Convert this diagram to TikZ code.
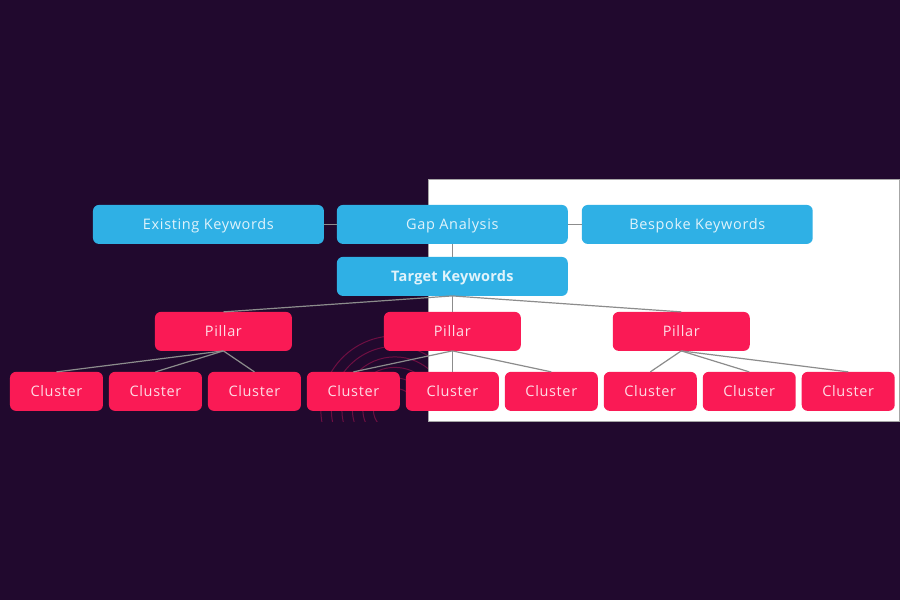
\documentclass[tikz,border=0pt]{standalone}
\usepackage{fontspec}
\setmainfont{Open Sans}
\usetikzlibrary{positioning}
\definecolor{darkbg}{HTML}{21092E}
\definecolor{kwblue}{HTML}{2FB0E5}
\definecolor{pillarred}{HTML}{FA1A55}
\definecolor{arcred}{HTML}{6E0F42}
\newcommand{\boxfont}{\fontsize{14.5}{16}\selectfont\addfontfeature{LetterSpace=4.5}}
\begin{document}
\begin{tikzpicture}[x=1pt,y=-1pt]
\tikzstyle{keyword} = [rectangle, fill=kwblue, text=white!85!kwblue, rounded corners=6pt, minimum width=231pt, minimum height=39pt, font=\boxfont, inner sep=0pt, outer sep=0pt, text height=12pt, text depth=1pt];
\tikzstyle{pillar} = [keyword, fill=pillarred, text=white!85!pillarred, minimum width=137pt];
\tikzstyle{cluster} = [pillar, minimum width=93pt];
\tikzstyle{line} = [draw=gray!90, line width=1.2pt];
% background
\fill[darkbg] (0,0) rectangle (900,600);
\fill[white] (428.5,179) rectangle (900,421);
\draw[gray!70, line width=0.6pt] (428.5,179) -- (900,179) -- (900,421) -- (428.5,421) -- cycle;
% arcs behind the boxes
\begin{scope}
\clip (300,325) -- (428,325) -- (428,411) -- (395,411) -- (395,422) -- (300,422) -- cycle;
\foreach \r in {21.5,32,42.5,53,63.5,74}
  \draw[arcred, line width=1pt] (395,410) circle (\r);
\end{scope}
% row 1
\node [keyword] (gap) at (452.5,224.5) {Gap Analysis};
\node [keyword, left=13pt of gap] (existing) {Existing Keywords};
\node [keyword, right=14pt of gap] (bespoke) {Bespoke Keywords};
% row 2
\node [keyword, below=13pt of gap, font=\fontsize{14.5}{16}\selectfont\bfseries\addfontfeature{LetterSpace=1.5}] (target) {Target Keywords};
% row 3
\node [pillar] (pillar2) at (452.5,331.5) {Pillar};
\node [pillar, left=92pt of pillar2] (pillar1) {Pillar};
\node [pillar, right=92pt of pillar2] (pillar3) {Pillar};
% row 4
\node [cluster] (cluster5) at (452.5,391.5) {Cluster};
\node [cluster, left=6pt of cluster5] (cluster4) {Cluster};
\node [cluster, left=6pt of cluster4] (cluster3) {Cluster};
\node [cluster, left=6pt of cluster3] (cluster2) {Cluster};
\node [cluster, left=6pt of cluster2] (cluster1) {Cluster};
\node [cluster, right=6pt of cluster5] (cluster6) {Cluster};
\node [cluster, right=6pt of cluster6] (cluster7) {Cluster};
\node [cluster, right=6pt of cluster7] (cluster8) {Cluster};
\node [cluster, right=6pt of cluster8] (cluster9) {Cluster};
\draw[line] (existing) -- (gap);
\draw[line] (gap) -- (bespoke);
\draw[line] (gap) -- (target);
\foreach \p in {1,2,3}
  \draw[line] (target.south) -- (pillar\p.north);
\foreach \c in {1,2,3}
  \draw[line] (pillar1.south) -- (cluster\c.north);
\foreach \c in {4,5,6}
  \draw[line] (pillar2.south) -- (cluster\c.north);
\foreach \c in {7,8,9}
  \draw[line] (pillar3.south) -- (cluster\c.north);
\end{tikzpicture}
\end{document}
